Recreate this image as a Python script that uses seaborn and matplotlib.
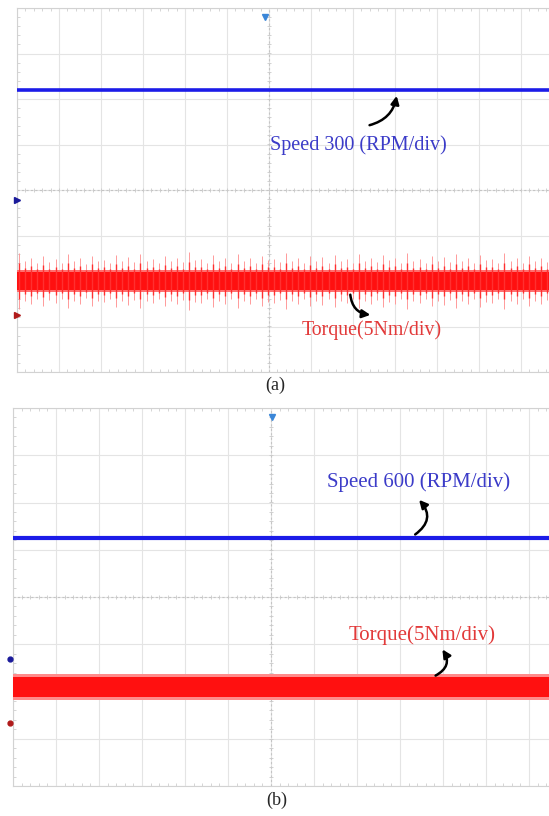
import numpy as np
import pandas as pd
import matplotlib
matplotlib.use("Agg")
import matplotlib.pyplot as plt
import seaborn as sns

# ------------------------------------------ DATA (in divisions) ------------------------------------------#
# panel (a): speed 300 RPM/div, torque 5 Nm/div
speed_a_level = 2.2
torque_a_level = -2.0
torque_a_band = 0.2
torque_a_spikes = [0.62, 0.45, 0.50, 0.40, 0.55, 0.42, 0.48, 0.40, 0.60, 0.44, 0.50, 0.38,
                   0.56, 0.45, 0.47, 0.40, 0.58, 0.43, 0.52, 0.41, 0.60, 0.45, 0.49, 0.39,
                   0.55, 0.44, 0.50, 0.42, 0.63, 0.46, 0.48, 0.40, 0.57, 0.43, 0.51, 0.40,
                   0.59, 0.44, 0.50, 0.39, 0.56, 0.46, 0.49, 0.41, 0.61, 0.45, 0.50, 0.40,
                   0.55, 0.43, 0.52, 0.40, 0.58, 0.45, 0.48, 0.39, 0.60, 0.44, 0.51, 0.41,
                   0.57, 0.46, 0.50, 0.40, 0.62, 0.44, 0.49, 0.39, 0.56, 0.45, 0.52, 0.41,
                   0.59, 0.43, 0.50, 0.40, 0.58, 0.46, 0.48, 0.39, 0.61, 0.44, 0.51, 0.40,
                   0.56, 0.45, 0.50, 0.42]
# panel (b): speed 600 RPM/div, torque 5 Nm/div
speed_b_level = 1.25
torque_b_level = -1.9
torque_b_band = 0.21

# channel markers on the left edge and trigger position on top
ch_a = {'speed': -0.22, 'torque': -2.75}
ch_b = {'speed': -1.31, 'torque': -2.67}
trig_a = 5.9
trig_b = 6.02

# ------------------------------------------ PLOT ------------------------------------------------------#
sns.set_style("white")
plt.rcParams["font.family"] = ["Liberation Serif", "DejaVu Serif"]

fig = plt.figure(figsize=(5.49, 8.16), dpi=100)

# screen is cropped at the right edge of the picture
ax_a = fig.add_axes([17 / 549, 1 - 372 / 816, 1 - 17 / 549, 364 / 816])
ax_b = fig.add_axes([13 / 549, 1 - 786 / 816, 1 - 13 / 549, 378 / 816])

xmax_a = (549 - 17) / 42
xmax_b = (549 - 13) / 43
blue = '#1c1ce8'
red = '#ff1010'


def scope_grid(ax, xmax):
    ax.set_xticks(np.arange(0, 13))
    ax.set_yticks(np.arange(-4, 5))
    ax.set_xticks(np.arange(0, 13, 0.2), minor=True)
    ax.set_yticks(np.arange(-4, 4.01, 0.2), minor=True)
    # limits after the ticks, set_xticks would widen the view otherwise
    ax.set_xlim(0, xmax)
    ax.set_ylim(-4, 4)
    ax.set_xticklabels([])
    ax.set_yticklabels([])
    ax.set_xlabel('')
    ax.set_ylabel('')
    ax.grid(True, which='major', color='#e4e4e4', lw=0.8)
    ax.tick_params(which='both', direction='in', color='#cfcfcf', width=0.6)
    ax.tick_params(which='major', length=0)
    ax.tick_params(which='minor', length=2.5, top=True, left=True, bottom=True, right=False)
    for s in ['left', 'top', 'bottom']:
        ax.spines[s].set_color('#d2d2d2')
        ax.spines[s].set_linewidth(0.8)
    ax.spines['right'].set_visible(False)
    # dotted centre lines with small ticks
    ax.axhline(0, color='#c4c4c4', lw=0.8, ls=(0, (2, 2)), zorder=1)
    ax.axvline(6, color='#c4c4c4', lw=0.8, ls=(0, (2, 2)), zorder=1)
    mx = np.arange(0, xmax, 0.2)
    ax.plot(mx, np.zeros_like(mx), ls='none', marker='|', ms=3, color='#cacaca', mew=0.6, zorder=1)
    my = np.arange(-4, 4.01, 0.2)
    ax.plot(np.full_like(my, 6), my, ls='none', marker='_', ms=3, color='#cacaca', mew=0.6, zorder=1)
    ax.set_xlim(0, xmax)
    ax.set_ylim(-4, 4)


# ---- panel (a)
df_sa = pd.DataFrame({'t': [0, xmax_a], 'v': [speed_a_level, speed_a_level]})
sns.lineplot(data=df_sa, x='t', y='v', ax=ax_a, color=blue, lw=2.6, zorder=5)

ax_a.fill_between([0, xmax_a], torque_a_level - torque_a_band - 0.04,
                  torque_a_level + torque_a_band + 0.04, color='#ff7070', lw=0, zorder=4)
ax_a.fill_between([0, xmax_a], torque_a_level - torque_a_band, torque_a_level + torque_a_band,
                  color=red, lw=0, zorder=4)
t_sp = np.linspace(0.05, xmax_a - 0.05, len(torque_a_spikes))
sp = np.array(torque_a_spikes)
ax_a.vlines(t_sp, torque_a_level - sp, torque_a_level + sp, color='#ff9a9a', lw=0.7, zorder=3)
ax_a.vlines(t_sp, torque_a_level - sp * 0.65, torque_a_level + sp * 0.65, color='#ff3030',
            lw=1.0, zorder=4)

ax_a.text(8.12, 0.99, 'Speed 300 (RPM/div)', color='#3b3bc8', fontsize=14.5,
          ha='center', va='center', zorder=6)
ax_a.text(8.45, -3.08, 'Torque(5Nm/div)', color='#e23a3a', fontsize=14.3,
          ha='center', va='center', zorder=6)
ax_a.annotate('', xy=(9.05, 2.13), xytext=(8.33, 1.41),
              arrowprops=dict(arrowstyle='-|>', color='black', lw=1.8, mutation_scale=12,
                              connectionstyle='arc3,rad=0.35'), zorder=7)
ax_a.annotate('', xy=(8.48, -2.75), xytext=(7.93, -2.24),
              arrowprops=dict(arrowstyle='-|>', color='black', lw=1.8, mutation_scale=12,
                              connectionstyle='arc3,rad=0.45'), zorder=7)

ax_a.plot([0], [ch_a['speed']], marker='>', ms=4.5, color='#1a1a9a', clip_on=False, zorder=8)
ax_a.plot([0], [ch_a['torque']], marker='>', ms=4.5, color='#b01a1a', clip_on=False, zorder=8)
ax_a.plot([trig_a], [3.8], marker='v', ms=5, color='#3a86d8', clip_on=False, zorder=8)

# ---- panel (b)
df_sb = pd.DataFrame({'t': [0, xmax_b], 'v': [speed_b_level, speed_b_level]})
sns.lineplot(data=df_sb, x='t', y='v', ax=ax_b, color=blue, lw=3.0, zorder=5)

ax_b.fill_between([0, xmax_b], torque_b_level - torque_b_band - 0.06,
                  torque_b_level + torque_b_band + 0.06, color='#ff8a8a', lw=0, zorder=4)
ax_b.fill_between([0, xmax_b], torque_b_level - torque_b_band, torque_b_level + torque_b_band,
                  color=red, lw=0, zorder=4)

ax_b.text(9.44, 2.43, 'Speed 600 (RPM/div)', color='#3b3bc8', fontsize=15,
          ha='center', va='center', zorder=6)
ax_b.text(9.51, -0.80, 'Torque(5Nm/div)', color='#e23a3a', fontsize=15,
          ha='center', va='center', zorder=6)
ax_b.annotate('', xy=(9.40, 2.10), xytext=(9.30, 1.29),
              arrowprops=dict(arrowstyle='-|>', color='black', lw=1.8, mutation_scale=12,
                              connectionstyle='arc3,rad=0.6'), zorder=7)
ax_b.annotate('', xy=(9.95, -1.06), xytext=(9.77, -1.69),
              arrowprops=dict(arrowstyle='-|>', color='black', lw=1.8, mutation_scale=12,
                              connectionstyle='arc3,rad=0.6'), zorder=7)

ax_b.plot([-0.07], [ch_b['speed']], marker='o', ms=3.5, color='#1a1a9a', clip_on=False, zorder=8)
ax_b.plot([-0.07], [ch_b['torque']], marker='o', ms=3.5, color='#b01a1a', clip_on=False, zorder=8)
ax_b.plot([trig_b], [3.8], marker='v', ms=5, color='#3a86d8', clip_on=False, zorder=8)

# grid and limits last, so the lineplot autoscaling does not shrink the traces
scope_grid(ax_a, xmax_a)
scope_grid(ax_b, xmax_b)

fig.text(275 / 549, 1 - 385 / 816, '(a)', fontsize=13, ha='center', va='center')
fig.text(277 / 549, 1 - 800 / 816, '(b)', fontsize=13, ha='center', va='center')

plt.savefig('out.png', dpi=100)
